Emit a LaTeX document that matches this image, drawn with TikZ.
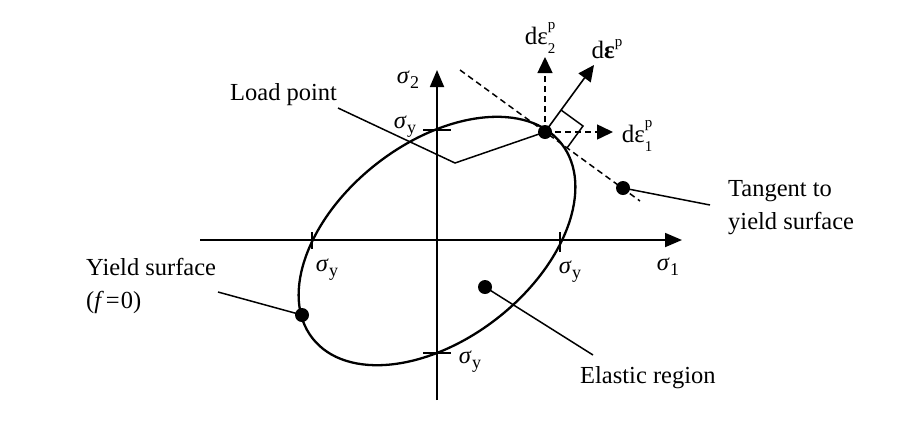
\documentclass[tikz,border=0pt]{standalone}
\usepackage{fontspec}
\setmainfont{Liberation Serif}
\usetikzlibrary{arrows.meta,calc}
\newcommand\smallfs{\fontsize{18}{18}\selectfont}
\newcommand\tinyfs{\fontsize{15}{15}\selectfont}
\newcommand\sigsub[1]{\textit{σ}\kern0.5pt\raisebox{-0.45ex}{\smallfs #1}}
\newcommand\depsss[2]{\rlap{\raisebox{0.6em}{\tinyfs #1}}\raisebox{-0.35em}{\tinyfs #2}}
\begin{document}
\begin{tikzpicture}[x=1pt,y=-1pt,
  lbl/.style={font=\fontsize{24.5}{33}\selectfont, inner sep=0pt},
  dlbl/.style={font=\fontsize{25}{28}\selectfont, inner sep=0pt},
  axisarrow/.style={line width=1.8pt, -{Triangle[length=17pt,width=14pt]}},
  vecarrow/.style={line width=1.6pt, -{Triangle[length=16pt,width=15pt]}},
  leader/.style={line width=1.5pt},
  dotnode/.style={circle, fill=black, inner sep=0pt, minimum size=14pt},
  tickline/.style={line width=1.5pt},
  dsh/.style={line width=1.5pt, dash pattern=on 6pt off 4pt},
  curve/.style={line width=2.3pt},
  ]
\useasboundingbox (0,0) rectangle (917,432);
% axes
\coordinate (x0) at (200,240); \coordinate (x1) at (682,240);
\coordinate (y0) at (437,400); \coordinate (y1) at (437,70);
\draw[axisarrow] (x0) -- (x1);
\draw[axisarrow] (y0) -- (y1);
% yield surface
\coordinate (C) at (437,241);
\draw[curve, rotate around={38:(C)}] (C) ellipse [x radius=158pt, y radius=98pt];
% ticks
\coordinate (tt0) at (423,130); \coordinate (tt1) at (451,130);
\coordinate (tb0) at (423,353); \coordinate (tb1) at (451,353);
\coordinate (tl0) at (312,232); \coordinate (tl1) at (312,249);
\coordinate (tr0) at (560,232); \coordinate (tr1) at (560,252);
\draw[tickline] (tt0) -- (tt1);
\draw[tickline] (tb0) -- (tb1);
\draw[tickline] (tl0) -- (tl1);
\draw[tickline] (tr0) -- (tr1);
% axis labels
\node[lbl] (s2) at (408,80) {\sigsub{2}};
\node[lbl] (s1) at (668,267) {\sigsub{1}};
\node[lbl] (syt) at (405,127) {\sigsub{y}};
\node[lbl] (syl) at (327,270) {\sigsub{y}};
\node[lbl] (syr) at (570,272) {\sigsub{y}};
\node[lbl] (syb) at (470,362) {\sigsub{y}};
% tangent line
\coordinate (t0) at (460,70); \coordinate (t1) at (640,201);
\draw[dsh] (t0) -- (t1);
% load point and vectors
\node[dotnode] (L) at (545,132) {};
\coordinate (n) at (594,65);
\coordinate (e2) at (545,57);
\coordinate (e1) at (613,132);
\draw[vecarrow] (L.center) -- (n);
\draw[vecarrow, dsh] (L.center) -- (e2);
\draw[vecarrow, dsh] (L.center) -- (e1);
\coordinate (ra1) at (561,110); \coordinate (ra2) at (583,126); \coordinate (ra3) at (567,148);
\draw[leader] (ra1) -- (ra2) -- (ra3);
\node[dlbl] (de2) at (540,38) {dε\depsss{p}{2}};
\node[dlbl] (de) at (607,49) {d\textbf{ε}\raisebox{0.45em}{\tinyfs p}};
\node[dlbl] (de1) at (637,136) {dε\depsss{p}{1}};
% load point label
\node[lbl, anchor=west] (lp) at (230,95) {Load point};
\coordinate (lpA) at (338,108); \coordinate (lpB) at (455,163);
\draw[leader] (lpA) -- (lpB) -- (L.center);
% tangent label
\node[dotnode] (T) at (623,188) {};
\node[lbl, align=left, anchor=north west] (tl) at (728,180) {Tangent to\\yield surface};
\coordinate (tA) at (710,205);
\draw[leader] (T.center) -- (tA);
% yield surface label
\node[dotnode] (Y) at (302,315) {};
\node[lbl, align=left, anchor=north west] (yl) at (86,258) {Yield surface\\(\textit{f}\kern2pt=\kern1pt0)};
\coordinate (yA) at (218,292);
\draw[leader] (yA) -- (Y.center);
% elastic region
\node[dotnode] (E) at (485,287) {};
\node[lbl, anchor=west] (el) at (580,378) {Elastic region};
\coordinate (eA) at (593,355);
\draw[leader] (E.center) -- (eA);
\end{tikzpicture}
\end{document}
